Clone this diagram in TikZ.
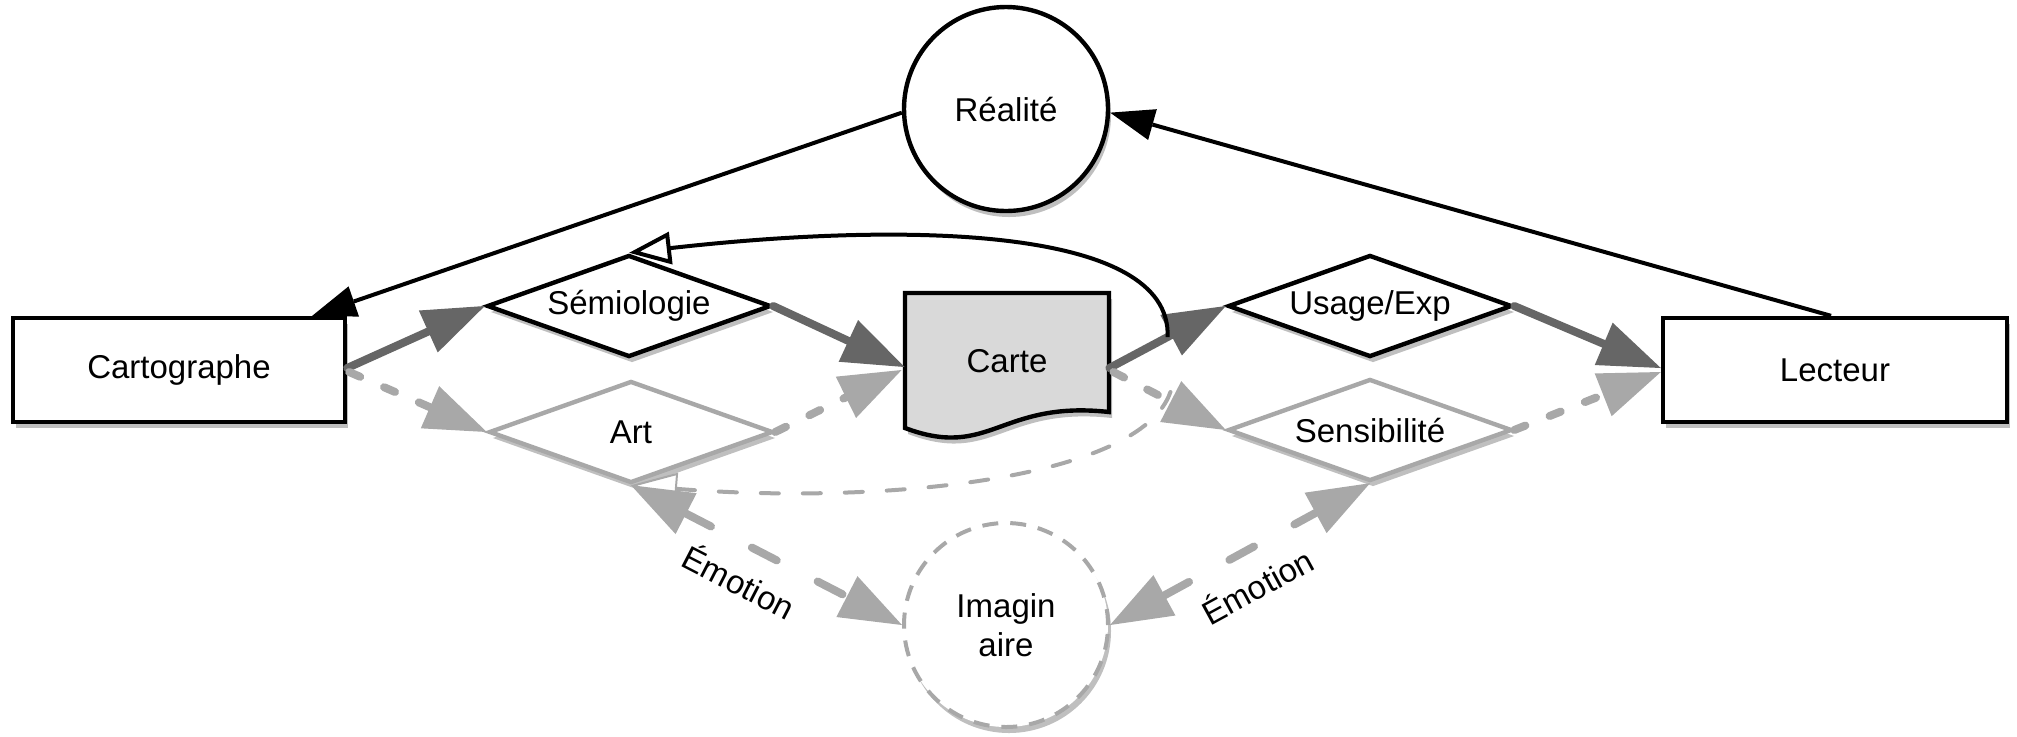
\documentclass[tikz,border=0pt]{standalone}
\usepackage{fontspec}
\setmainfont{Liberation Sans}
\usetikzlibrary{arrows.meta,shapes.geometric,calc,shadows}
\definecolor{dgray}{HTML}{666666}
\definecolor{lgray}{HTML}{A8A8A8}
\definecolor{cfill}{HTML}{D9D9D9}
\begin{document}
\begin{tikzpicture}[x=0.5pt,y=-0.5pt,
  every node/.style={font=\fontsize{16.5pt}{19.5pt}\selectfont},
  shad/.style={drop shadow={shadow xshift=1.5pt,shadow yshift=-3pt,opacity=0.25,fill=black}},
  boxnode/.style={rectangle,draw=black,line width=2.2pt,fill=white,minimum height=52pt,shad},
  dia/.style={diamond,shape aspect=2.8,inner sep=0pt,minimum width=142pt,minimum height=51pt,fill=white,line width=2.2pt,shad},
  blk/.style={black,line width=2pt,-{Triangle[length=22pt,width=16pt,line width=0pt]}},
  dk/.style={dgray,line width=4pt,line cap=round,-{Triangle[length=31pt,width=23pt,line width=0pt]}},
  lt/.style={lgray,line width=4pt,line cap=round,dash pattern=on 6pt off 13pt,-{Triangle[length=31pt,width=23pt,line width=0pt]}},
  emo/.style={lgray,line width=4pt,line cap=round,dash pattern=on 14pt off 23pt,{Triangle[length=31pt,width=23pt,line width=0pt]}-{Triangle[length=31pt,width=23pt,line width=0pt]}}
]
\useasboundingbox (0,0) rectangle (2017,736);

% nodes
\node[boxnode,minimum width=166pt] (carto) at (179,370) {Cartographe};
\node[boxnode,minimum width=172pt] (lect) at (1835,370) {Lecteur};
\node[circle,draw=black,line width=2.2pt,fill=white,minimum size=102pt,inner sep=0pt,shad] (real) at (1006,109) {Réalité};
\node[dia,draw=black] (semio) at (629,306) {Sémiologie};
\node[dia,draw=lgray] (art) at (631,432) {Art};
\node[dia,draw=black] (usage) at (1370,306) {Usage/Exp};
\node[dia,draw=lgray] (sensi) at (1370,430) {Sensibilité};
\path[draw=black,line width=2.2pt,fill=cfill,shad] (905,293) -- (1109,293) -- (1109,412) .. controls (1000,400) and (990,460) .. (905,428) -- cycle;
\node[minimum width=102pt,minimum height=68pt,inner sep=0pt] (carte) at (1007,361) {Carte};
\node[circle,draw=lgray,line width=2pt,dash pattern=on 8pt off 6pt,fill=white,minimum size=102pt,inner sep=0pt,align=center,shad] (imag) at (1006,625) {Imagin\\aire};

% coordinates
\coordinate (cR1) at ($(carte.east)+(0,7)$);
\coordinate (cm) at ($(cR1)!0.5!(usage.west)$);
\coordinate (dc) at ($(carte.east)+(61,31)$);

% connectors
\draw[blk] (real.182) -- ($(carto.north east)+(-35,0)$);
\draw[blk] ($(lect.north)+(-4,0)$) -- (real.-2);

\draw[lgray,line width=2pt,line cap=round,dash pattern=on 9pt off 12pt,-{Triangle[open,length=23pt,width=16pt,line width=1pt,fill=white]}] (dc) .. controls (1140,480) and (880,505) .. (art.south);

\draw[dk] ($(carto.east)+(0,-2)$) -- (semio.west);
\draw[lt] ($(carto.east)+(2,2)$) -- (art.west);
\draw[dk] (semio.east) -- ($(carte.west)+(0,6)$);
\draw[lt] (art.east) -- ($(carte.west)+(-3,9)$);
\draw[dk] (cR1) -- (usage.west);
\draw[lt] ($(carte.east)+(4,11)$) -- (sensi.west);
\draw[dk] (usage.east) -- ($(lect.west)+(0,-2)$);
\draw[lt] (sensi.east) -- ($(lect.west)+(0,2)$);

\draw[black,line width=2pt,-{Triangle[open,length=21pt,width=16pt,line width=2pt,fill=white]}] (cm) .. controls (1172,225) and (900,222) .. (semio.north);

\draw[emo] (art.south) -- node[sloped,below=5pt,pos=0.46,text=black] {Émotion} (imag.west);
\draw[emo] (imag.east) -- node[sloped,below=5pt,pos=0.5,text=black] {Émotion} (sensi.south);
\end{tikzpicture}
\end{document}
